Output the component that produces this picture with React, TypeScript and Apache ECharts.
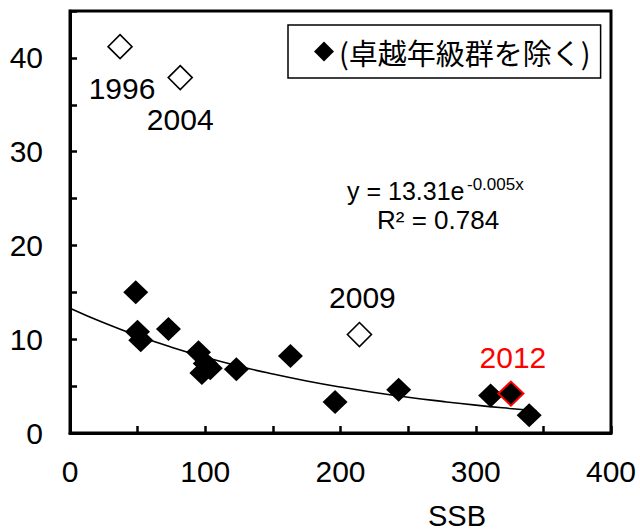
import React, { useEffect, useRef } from "react";
import * as echarts from "echarts";

// Filled diamonds (excluding outstanding year classes)
const ssbMain = [48.6, 49.9, 52.3, 72.8, 95, 100, 97.5, 103.7, 123, 163, 196, 243, 311, 339.5];
const valMain = [15.0, 10.8, 9.9, 11.1, 8.6, 7.4, 6.4, 6.9, 6.8, 8.2, 3.3, 4.6, 4.0, 1.9];

// Open diamonds (outstanding year classes)
const outYears = ["1996", "2004", "2009"];
const ssbOut = [37, 81.5, 214];
const valOut = [41.2, 37.9, 10.5];
const outLabelOffsets = [[2, 42], [0, 42], [3, -37]];

// 2012 highlighted
const year2012 = "2012";
const ssb2012 = [326];
const val2012 = [4.2];

// Trendline points
const trendX = [0, 25, 50, 75, 100, 125, 150, 175, 200, 225, 250, 275, 300, 325, 345];
const trendY = [13.31, 11.75, 10.37, 9.15, 8.07, 7.12, 6.29, 5.55, 4.9, 4.32, 3.81, 3.37, 2.97, 2.62, 2.37];

const legendName = "(卓越年級群を除く)";
const xAxisName = "SSB";
const eqMain = "y = 13.31e";
const eqSup = "-0.005x";
const eqR2 = "R² = 0.784";

const FONT = "'Liberation Sans', Arial, sans-serif";

export default function App() {
  const ref = useRef<HTMLDivElement>(null);
  useEffect(() => {
    if (!ref.current) return;
    const chart = echarts.init(ref.current, null, { renderer: "svg" });
    const option = {
      animation: false,
      backgroundColor: "#fff",
      textStyle: { fontFamily: FONT },
      grid: {
        left: 70,
        right: 29,
        top: 11,
        bottom: 98,
        show: true,
        borderColor: "#000",
        borderWidth: 3,
        containLabel: false,
      },
      legend: {
        data: [{ name: legendName, icon: "diamond", itemStyle: { color: "#000", opacity: 1 } }],
        left: 288,
        top: 25,
        itemWidth: 20,
        itemHeight: 20,
        itemGap: 5,
        padding: [12, 10, 12, 26],
        borderColor: "#000",
        borderWidth: 1.5,
        backgroundColor: "#fff",
        textStyle: {
          fontSize: 29,
          color: "#000",
          fontFamily: "'Noto Sans CJK JP', sans-serif",
        },
        selectedMode: false,
      },
      xAxis: {
        type: "value",
        min: 0,
        max: 400,
        interval: 50,
        splitLine: { show: false },
        axisLine: { show: true, lineStyle: { color: "#000", width: 3 } },
        axisTick: { show: true, inside: true, length: 7, lineStyle: { color: "#000", width: 2.5 } },
        axisLabel: {
          fontSize: 30,
          color: "#000",
          fontFamily: FONT,
          margin: 23,
          showMaxLabel: true,
          showMinLabel: true,
          formatter: (v: number) => (v % 100 === 0 ? String(v) : ""),
        },
      },
      yAxis: {
        type: "value",
        min: 0,
        max: 45,
        interval: 5,
        splitLine: { show: false },
        axisLine: { show: true, lineStyle: { color: "#000", width: 3 } },
        axisTick: { show: true, inside: true, length: 7, lineStyle: { color: "#000", width: 2.5 } },
        axisLabel: {
          fontSize: 30,
          color: "#000",
          fontFamily: FONT,
          margin: 27,
          formatter: (v: number) => (v % 10 === 0 ? String(v) : ""),
        },
      },
      series: [
        {
          name: "trend",
          type: "line",
          data: trendX.map((x, i) => [x, trendY[i]]),
          showSymbol: false,
          smooth: true,
          lineStyle: { color: "#000", width: 1.6 },
          silent: true,
          z: 3,
        },
        {
          name: legendName,
          type: "scatter",
          symbol: "diamond",
          symbolSize: [25, 24],
          itemStyle: { color: "#000", opacity: 1 },
          data: ssbMain.map((x, i) => [x, valMain[i]]),
          z: 4,
        },
        {
          name: "outstanding",
          type: "scatter",
          symbol: "diamond",
          symbolSize: [24, 24],
          itemStyle: { color: "#fff", borderColor: "#000", borderWidth: 1.6, opacity: 1 },
          data: ssbOut.map((x, i) => ({
            value: [x, valOut[i]],
            label: {
              show: true,
              formatter: outYears[i],
              position: "inside",
              offset: outLabelOffsets[i],
              fontSize: 30,
              color: "#000",
              fontFamily: FONT,
            },
          })),
          z: 4,
        },
        {
          name: "y2012",
          type: "scatter",
          symbol: "diamond",
          symbolSize: [25, 24],
          itemStyle: { color: "#000", borderColor: "#ff0000", borderWidth: 2, opacity: 1 },
          data: ssb2012.map((x, i) => ({
            value: [x, val2012[i]],
            label: {
              show: true,
              formatter: year2012,
              position: "inside",
              offset: [2, -36],
              fontSize: 30,
              color: "#ff0000",
              fontFamily: FONT,
            },
          })),
          z: 5,
        },
      ],
      graphic: [
        {
          type: "text",
          left: 347,
          top: 178,
          style: { text: eqMain, font: `25px ${FONT}`, fill: "#000" },
        },
        {
          type: "text",
          left: 467,
          top: 176,
          style: { text: eqSup, font: `17px ${FONT}`, fill: "#000" },
        },
        {
          type: "text",
          left: 377,
          top: 207,
          style: { text: eqR2, font: `26px ${FONT}`, fill: "#000" },
        },
        {
          type: "text",
          x: 457,
          y: 516,
          style: {
            text: xAxisName,
            font: `29px ${FONT}`,
            fill: "#000",
            align: "center",
            verticalAlign: "middle",
          },
        },
      ],
    };
    chart.setOption(option);
    return () => chart.dispose();
  }, []);
  return (
    <div
      ref={ref}
      style={{ position: "fixed", left: 0, top: 0, width: 640, height: 531, background: "#fff" }}
    />
  );
}
